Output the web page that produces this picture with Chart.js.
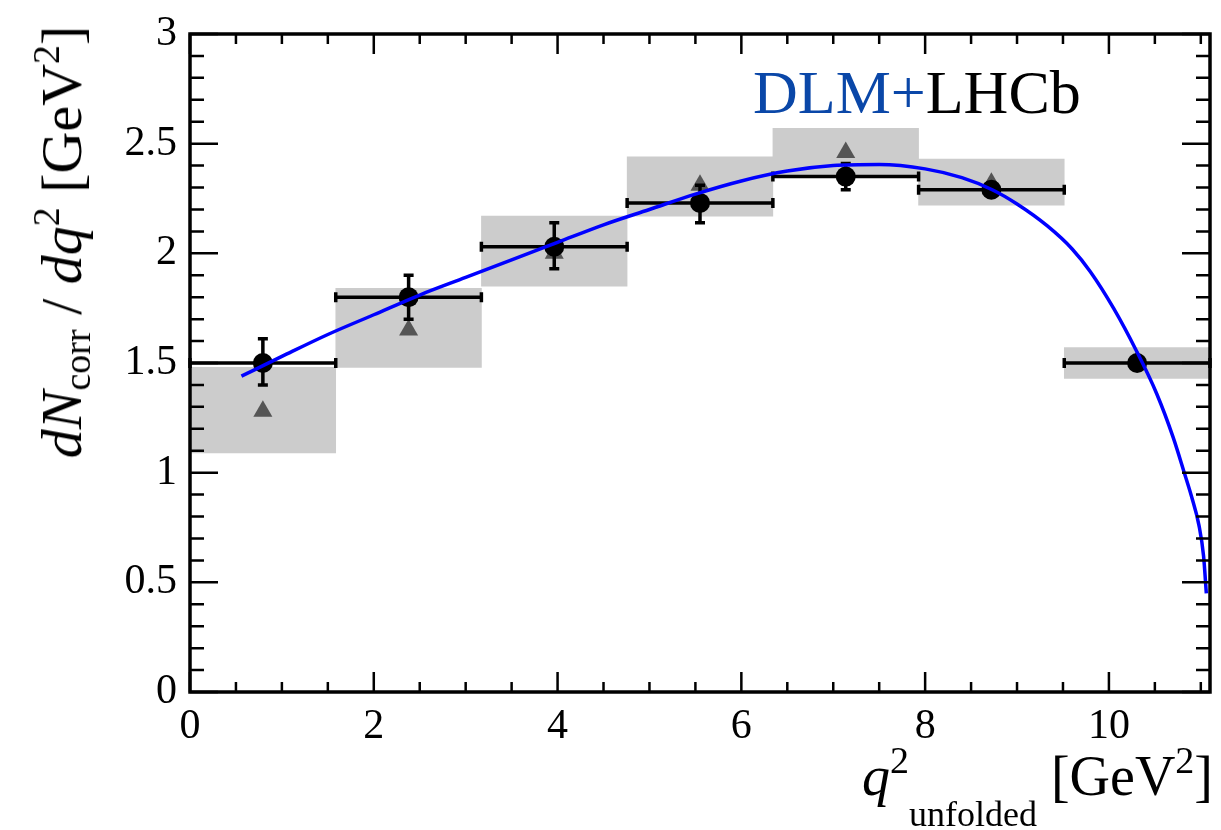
<!DOCTYPE html>
<html>
<head>
<meta charset="utf-8">
<script src="https://cdn.jsdelivr.net/npm/chart.js@4/dist/chart.umd.min.js"></script>
<style>
  body { margin: 0; background: #fff; }
  #wrap { position: relative; width: 1221px; height: 830px; font-family: "Liberation Serif", "DejaVu Serif", serif; color: #000; }
  #c { position: absolute; left: 0; top: 0; }
  .ttl { position: absolute; white-space: nowrap; line-height: 1; }
  .ttl span { position: relative; }
  #ytitle { left: 62px; top: 242px; font-size: 58px; transform: translate(-50%, -50%) rotate(-90deg); }
  #xtitle { right: 8px; top: 748px; font-size: 56px; }
  #label { left: 753px; top: 61px; font-size: 62px; }
</style>
</head>
<body>
<div id="wrap">
  <canvas id="c" width="1221" height="830"></canvas>
  <div id="ytitle" class="ttl"><i>dN</i><span style="font-size:38px;top:9px">corr</span> / <i>dq</i><span style="font-size:38px;top:-22px">2</span> [GeV<span style="font-size:38px;top:-22px">2</span>]</div>
  <div id="xtitle" class="ttl"><i>q</i><span style="font-size:38px;top:-22px">2</span><span style="font-size:36px;top:31px">unfolded</span> [GeV<span style="font-size:38px;top:-22px">2</span>]</div>
  <div id="label" class="ttl"><span style="color:#0a47a8">DLM+</span>LHCb</div>
</div>
<script>
// ---- data ----
const X_TICKS = [0, 2, 4, 6, 8, 10];
const X_LO  = [0.000, 1.586, 3.171, 4.757, 6.343, 7.929, 9.514];
const X_HI  = [1.586, 3.171, 4.757, 6.343, 7.929, 9.514, 11.100];
const X_MID = [0.793, 2.379, 3.964, 5.550, 7.136, 8.721, 10.307];

const DATA_Y  = [1.50, 1.80, 2.03, 2.23, 2.35, 2.29, 1.50];
const STAT_LO = [1.40, 1.70, 1.93, 2.14, 2.29, 2.26, 1.48];
const STAT_HI = [1.61, 1.90, 2.14, 2.31, 2.41, 2.32, 1.52];
const SYST_LO = [1.09, 1.48, 1.85, 2.17, 2.35, 2.22, 1.43];
const SYST_HI = [1.48, 1.84, 2.17, 2.44, 2.57, 2.43, 1.57];
const TRI_Y   = [1.28, 1.65, 2.00, 2.31, 2.46, 2.32, 1.51];

const CURVE_X = [0.56, 1.0, 1.5, 2.0, 2.5, 3.0, 3.5, 4.0, 4.5, 5.0, 5.5, 6.0, 6.5, 7.0, 7.5, 8.0, 8.4, 8.73, 9.0, 9.33, 9.6, 9.8, 10.05, 10.3, 10.52, 10.7, 10.82, 10.9, 10.98, 11.03, 11.06];
const CURVE_Y = [1.44, 1.53, 1.63, 1.72, 1.81, 1.89, 1.97, 2.05, 2.13, 2.20, 2.27, 2.33, 2.375, 2.40, 2.405, 2.385, 2.345, 2.29, 2.225, 2.125, 2.02, 1.915, 1.75, 1.555, 1.36, 1.16, 1.00, 0.89, 0.76, 0.62, 0.45];

// stat error bars + bin-width bars, drawn just before the black markers
const errBars = {
  id: 'errBars',
  beforeDatasetDraw(chart, args) {
    if (args.index !== 2) return;
    const { ctx, scales: { x, y } } = chart;
    ctx.save();
    ctx.strokeStyle = '#000';
    ctx.lineCap = 'butt';
    ctx.beginPath();
    X_MID.forEach((xm, i) => {
      const yc = y.getPixelForValue(DATA_Y[i]);
      const x0 = x.getPixelForValue(X_LO[i]);
      const x1 = x.getPixelForValue(X_HI[i]);
      ctx.moveTo(x0, yc); ctx.lineTo(x1, yc);
      ctx.moveTo(x0, yc - 5); ctx.lineTo(x0, yc + 5);
      ctx.moveTo(x1, yc - 5); ctx.lineTo(x1, yc + 5);
      const xc = x.getPixelForValue(xm);
      const ylo = y.getPixelForValue(STAT_LO[i]);
      const yhi = y.getPixelForValue(STAT_HI[i]);
      ctx.moveTo(xc, ylo); ctx.lineTo(xc, yhi);
      ctx.moveTo(xc - 5, ylo); ctx.lineTo(xc + 5, ylo);
      ctx.moveTo(xc - 5, yhi); ctx.lineTo(xc + 5, yhi);
    });
    ctx.lineWidth = 3.5;
    ctx.stroke();
    ctx.restore();
  }
};

// ROOT-style frame with inward ticks on all four sides
const rootFrame = {
  id: 'rootFrame',
  afterDatasetsDraw(chart) {
    const { ctx, chartArea: a, scales: { x, y } } = chart;
    ctx.save();
    ctx.strokeStyle = '#000';
    ctx.beginPath();
    for (let i = 0; i * 0.5 <= x.max + 1e-9; i++) {
      const px = x.getPixelForValue(i * 0.5);
      const len = i % 4 === 0 ? 20 : 10;
      ctx.moveTo(px, a.bottom); ctx.lineTo(px, a.bottom - len);
      ctx.moveTo(px, a.top);    ctx.lineTo(px, a.top + len);
    }
    for (let i = 0; i <= 30; i++) {
      const py = y.getPixelForValue(i * 0.1);
      const len = i % 5 === 0 ? 28 : 14;
      ctx.moveTo(a.left, py);  ctx.lineTo(a.left + len, py);
      ctx.moveTo(a.right, py); ctx.lineTo(a.right - len, py);
    }
    ctx.lineWidth = 2.5;
    ctx.stroke();
    ctx.lineWidth = 3.5;
    ctx.strokeRect(a.left, a.top, a.width, a.height);
    ctx.restore();
  }
};

const tickFont = { family: '"Liberation Serif", serif', size: 42, lineHeight: 1 };

new Chart(document.getElementById('c'), {
  type: 'scatter',
  data: {
    datasets: [
      {
        type: 'line',
        data: CURVE_X.map((v, i) => ({ x: v, y: CURVE_Y[i] })),
        borderColor: '#0000ff',
        borderWidth: 3.5,
        pointRadius: 0,
        cubicInterpolationMode: 'monotone',
        order: 1,
      },
      {
        type: 'scatter',
        data: X_MID.map((v, i) => ({ x: v, y: TRI_Y[i] })),
        pointStyle: 'triangle',
        pointRadius: 11,
        backgroundColor: '#555555',
        borderColor: '#555555',
        borderWidth: 0,
        order: 3,
      },
      {
        type: 'scatter',
        data: X_MID.map((v, i) => ({ x: v, y: DATA_Y[i] })),
        pointStyle: 'circle',
        pointRadius: 10,
        backgroundColor: '#000',
        borderColor: '#000',
        borderWidth: 0,
        order: 2,
      },
      {
        type: 'bar',
        data: X_MID.map((v, i) => ({ x: v, y: [SYST_LO[i], SYST_HI[i]] })),
        backgroundColor: '#cccccc',
        borderWidth: 0,
        barPercentage: 1.0,
        categoryPercentage: 1.0,
        order: 4,
      },
    ]
  },
  options: {
    responsive: false,
    animation: false,
    events: [],
    layout: { padding: { top: 24, right: 8, left: 0, bottom: 0 } },
    plugins: { legend: { display: false }, tooltip: { enabled: false } },
    scales: {
      x: {
        type: 'linear',
        min: 0,
        max: 11.1,
        offset: false,
        afterBuildTicks: s => { s.ticks = X_TICKS.map(v => ({ value: v })); },
        afterFit: s => { s.height = 138; },
        grid: { display: false, drawTicks: false },
        border: { display: false },
        ticks: { color: '#000', font: tickFont, padding: 14, maxRotation: 0, autoSkip: false },
      },
      y: {
        type: 'linear',
        min: 0,
        max: 3,
        afterFit: s => { s.width = 190; },
        grid: { display: false, drawTicks: false },
        border: { display: false },
        ticks: { color: '#000', font: tickFont, padding: 13, stepSize: 0.5, callback: v => String(v) },
      },
    }
  },
  plugins: [errBars, rootFrame]
});
</script>
</body>
</html>
